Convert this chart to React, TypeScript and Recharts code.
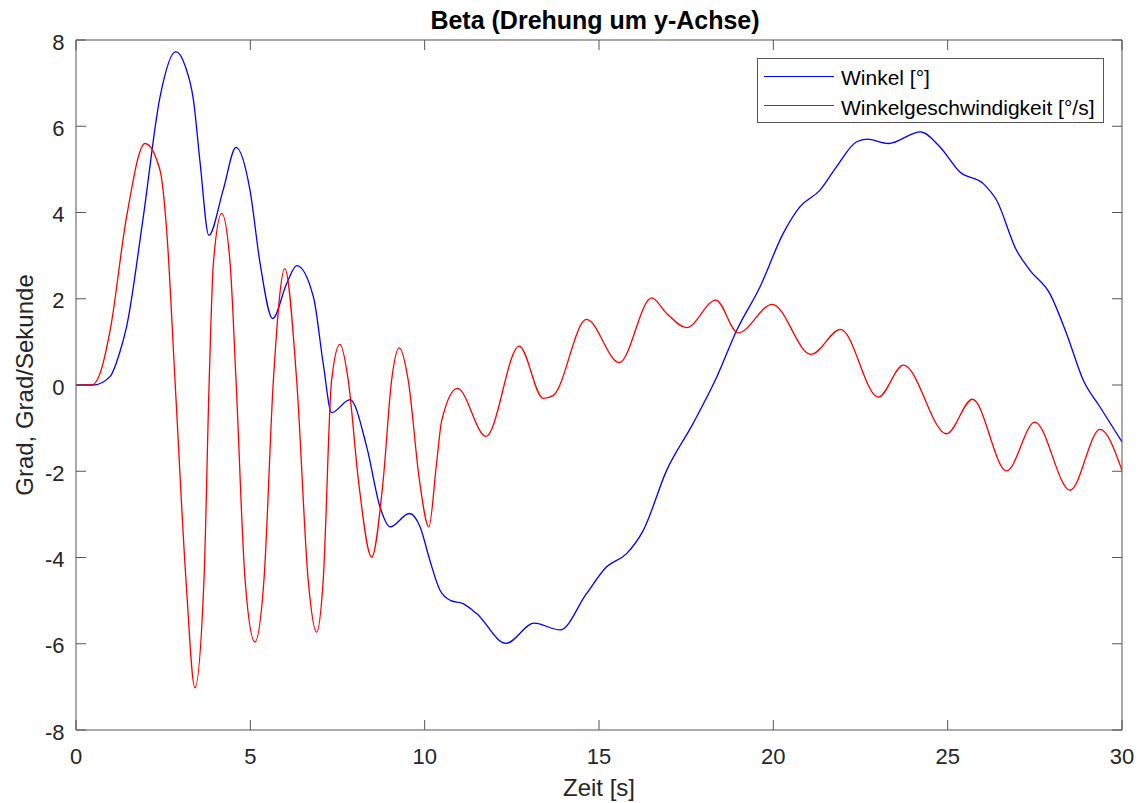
import React from 'react';
import { LineChart, Line, XAxis, YAxis } from 'recharts';

// Winkel [°] (blue)
const winkelT = [
  0, 0.5, 0.98, 1.26, 1.45, 1.93, 2.41, 2.86, 3.13, 3.37, 3.56, 3.81, 4.22, 4.59, 4.99, 5.28, 5.64,
  6.04, 6.33, 6.81, 7.09, 7.33, 7.86, 8.34, 8.72, 9.01, 9.56, 9.87, 10.15, 10.44, 10.75, 11.1,
  11.49, 12.33, 13.14, 13.88, 14.64, 15.21, 15.79, 16.27, 16.94, 17.7, 18.38, 18.95, 19.62,
  20.28, 20.76, 21.34, 21.81, 22.39, 22.69, 23.3, 24.22, 24.78, 25.35, 26.02, 26.4, 26.97,
  27.36, 27.93, 28.41, 28.89, 29.37, 30,
];
const winkelV = [
  0, 0, 0.2, 0.77, 1.35, 3.9, 6.68, 7.73, 7.4, 6.6, 5.15, 3.47, 4.52, 5.51, 4.52, 2.82, 1.54,
  2.35, 2.77, 2.04, 0.5, -0.64, -0.34, -1.44, -2.83, -3.29, -2.98, -3.29, -4.07, -4.76, -5.0, -5.07,
  -5.3, -5.99, -5.52, -5.68, -4.84, -4.22, -3.91, -3.37, -1.98, -0.89, 0.19, 1.27, 2.28,
  3.51, 4.13, 4.52, 5.06, 5.64, 5.7, 5.6, 5.87, 5.52, 4.94, 4.67, 4.29, 3.13,
  2.66, 2.12, 1.19, 0.11, -0.51, -1.32,
];

// Winkelgeschwindigkeit [°/s] (red)
const geschwT = [
  0, 0.45, 0.69, 0.98, 1.45, 1.98, 2.41, 2.6, 2.84, 3.155, 3.41, 3.67, 3.82, 3.94, 4.18, 4.42,
  4.59, 4.85, 5.13, 5.39, 5.66, 5.99, 6.33, 6.66, 6.9, 7.09, 7.33, 7.57, 7.81, 8.1, 8.48, 8.81,
  9.05, 9.27, 9.53, 9.85, 10.12, 10.34, 10.49, 10.94, 11.76, 12.71, 13.4, 13.69, 14.64, 15.58,
  16.51, 16.94, 17.51, 18.35, 18.99, 19.97, 21.08, 21.93, 23.01, 23.73, 24.97, 25.71, 26.69,
  27.5, 28.51, 29.37, 30,
];
const geschwV = [
  0, 0, 0.27, 1.27, 3.9, 5.6, 4.98, 3.59, 0.1, -4.53, -7.02, -4.53, 0.1, 2.82, 3.98, 2.82,
  0.1, -4.53, -5.96, -4.53, 0.1, 2.7, 0.1, -4.53, -5.73, -4.53, 0.1, 0.94, 0.1, -2.21, -3.99, -2.21,
  0.1, 0.86, 0.1, -2.21, -3.29, -1.82, -0.82, -0.08, -1.19, 0.9, -0.31, -0.24, 1.52, 0.52,
  2.02, 1.66, 1.33, 1.97, 1.21, 1.87, 0.71, 1.29, -0.28, 0.46, -1.13, -0.33, -1.99,
  -0.86, -2.44, -1.03, -1.98,
];

const xTicks = [0, 5, 10, 15, 20, 25, 30];
const yTicks = [-8, -6, -4, -2, 0, 2, 4, 6, 8];

const FONT = '"Liberation Sans", Arial, Helvetica, sans-serif';
const AXIS = '#555555';
const TEXT = '#262626';
const TICK_LEN = 10;

const winkelData = winkelT.map((t, i) => ({ t, v: winkelV[i] }));
const geschwData = geschwT.map((t, i) => ({ t, v: geschwV[i] }));

// ticks point inward (MATLAB box style); labels drawn by hand
const BottomTick = (props: any) => {
  const { x, y, payload } = props;
  return (
    <g>
      <line x1={x} x2={x} y1={y} y2={y - TICK_LEN} stroke={AXIS} />
      <text x={x} y={y + 34} textAnchor="middle" fontSize={22} fontFamily={FONT} fill={TEXT}>
        {String(payload.value)}
      </text>
    </g>
  );
};

const TopTick = (props: any) => {
  const { x, y } = props;
  return <line x1={x} x2={x} y1={y} y2={y + TICK_LEN} stroke={AXIS} />;
};

const LeftTick = (props: any) => {
  const { x, y, payload } = props;
  return (
    <g>
      <line x1={x} x2={x + TICK_LEN} y1={y} y2={y} stroke={AXIS} />
      <text x={x - 11.5} y={y + 9.5} textAnchor="end" fontSize={22} fontFamily={FONT} fill={TEXT}>
        {String(payload.value)}
      </text>
    </g>
  );
};

const RightTick = (props: any) => {
  const { x, y } = props;
  return <line x1={x} x2={x - TICK_LEN} y1={y} y2={y} stroke={AXIS} />;
};

export default function App() {
  return (
    <div style={{ position: 'absolute', left: 0, top: 0, width: 1141, height: 803, background: '#fff', fontFamily: FONT }}>
      <LineChart width={1141} height={803} margin={{ top: 39, right: 18, bottom: 72, left: 75 }}>
        <XAxis
          xAxisId="bottom" type="number" dataKey="t" domain={[0, 30]} ticks={xTicks}
          height={1} tickSize={0} tickMargin={0} tickLine={false}
          axisLine={{ stroke: AXIS }} tick={<BottomTick />} allowDataOverflow
        />
        <XAxis
          xAxisId="top" orientation="top" type="number" dataKey="t" domain={[0, 30]} ticks={xTicks}
          height={1} tickSize={0} tickMargin={0} tickLine={false}
          axisLine={{ stroke: AXIS }} tick={<TopTick />} allowDataOverflow
        />
        <YAxis
          yAxisId="left" type="number" domain={[-8, 8]} ticks={yTicks}
          width={1} tickSize={0} tickMargin={0} tickLine={false}
          axisLine={{ stroke: AXIS }} tick={<LeftTick />} allowDataOverflow
        />
        <YAxis
          yAxisId="right" orientation="right" type="number" domain={[-8, 8]} ticks={yTicks}
          width={1} tickSize={0} tickMargin={0} tickLine={false}
          axisLine={{ stroke: AXIS }} tick={<RightTick />} allowDataOverflow
        />
        <Line
          xAxisId="bottom" yAxisId="left" data={winkelData} dataKey="v" type="monotone"
          stroke="#0000ff" strokeWidth={1.3} dot={false} isAnimationActive={false}
        />
        <Line
          xAxisId="bottom" yAxisId="left" data={geschwData} dataKey="v" type="monotone"
          stroke="#ff0000" strokeWidth={1.3} dot={false} isAnimationActive={false}
        />
        {/* invisible series so top/right axes get a domain */}
        <Line
          xAxisId="top" yAxisId="right" data={winkelData} dataKey="v" type="monotone"
          stroke="none" dot={false} isAnimationActive={false} legendType="none"
        />
      </LineChart>

      {/* title */}
      <div style={{ position: 'absolute', left: 0, width: 1190, top: 8, textAlign: 'center', fontSize: 25, lineHeight: '25px', fontWeight: 'bold', color: '#000' }}>
        Beta (Drehung um y-Achse)
      </div>

      {/* x label */}
      <div style={{ position: 'absolute', left: 399, width: 400, top: 776, textAlign: 'center', fontSize: 24, lineHeight: '24px', color: TEXT }}>
        Zeit [s]
      </div>

      {/* y label */}
      <div style={{
        position: 'absolute', left: 24.7 - 200, top: 385 - 12, width: 400, height: 24, textAlign: 'center',
        fontSize: 24, lineHeight: '24px', color: TEXT, transform: 'rotate(-90deg)',
      }}>
        Grad, Grad/Sekunde
      </div>

      {/* legend */}
      <div style={{
        position: 'absolute', left: 757, top: 58, width: 347, height: 65, boxSizing: 'border-box',
        border: `1px solid ${AXIS}`, background: '#fff',
      }}>
        <div style={{ position: 'absolute', left: 6, top: 16.7, width: 70, height: 1.3, background: '#0000ff' }} />
        <div style={{ position: 'absolute', left: 83, top: 8.2, fontSize: 21, lineHeight: '21px', color: '#000', whiteSpace: 'nowrap' }}>
          Winkel [°]
        </div>
        <div style={{ position: 'absolute', left: 6, top: 46, width: 70, height: 1.3, background: '#ff0000' }} />
        <div style={{ position: 'absolute', left: 83, top: 37.5, fontSize: 21, lineHeight: '21px', color: '#000', whiteSpace: 'nowrap' }}>
          Winkelgeschwindigkeit [°/s]
        </div>
      </div>
    </div>
  );
}
